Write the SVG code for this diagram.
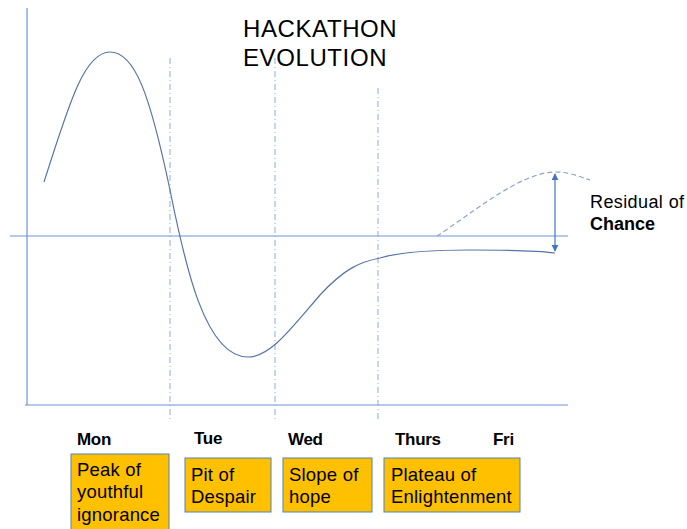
<svg xmlns="http://www.w3.org/2000/svg" width="687" height="529" viewBox="0 0 687 529">
<style>
.ax{stroke:#6f93d6;stroke-width:1.2;fill:none}
.dv{stroke:#8eaadb;stroke-width:1;stroke-dasharray:6,3,1,3;fill:none}
.cv{stroke:#5673a8;stroke-width:1.2;fill:none}
.day{font-family:"Liberation Sans",Arial,sans-serif;font-size:17px;font-weight:bold;fill:#000;letter-spacing:-0.3px}
.box{fill:#ffc000;stroke:#4f81bd;stroke-width:1}
.bt{font-family:"Liberation Sans",Arial,sans-serif;font-size:18.5px;fill:#000;letter-spacing:0.2px}
.ttl{font-family:"Liberation Sans",Arial,sans-serif;font-size:24px;fill:#000;letter-spacing:0.6px}
</style>
<defs>
<marker id="ah" viewBox="0 0 10 10" refX="9" refY="5" markerWidth="6" markerHeight="6" orient="auto-start-reverse"><path d="M0,0 L10,5 L0,10 z" fill="#4472c4"/></marker>
</defs>
<rect width="687" height="529" fill="#fff"/>
<g id="connectors">
<line class="ax" x1="27" y1="8" x2="27" y2="405"/>
<line class="ax" x1="25" y1="405" x2="568" y2="405"/>
<line class="ax" x1="10" y1="236" x2="568" y2="236"/>
<line class="dv" x1="170" y1="58" x2="170" y2="420"/>
<line class="dv" x1="275" y1="58" x2="275" y2="420"/>
<line class="dv" x1="378" y1="88" x2="378" y2="420"/>
<path class="cv" d="M44,182 C70,100 85,52 110,52 C135,52 150,95 170,190 C185,265 205,357 248,357 C270,357 290,330 320,295 C345,268 360,262 380,258 C400,252 430,250 470,250 C510,250 540,251 555,253"/>
<path class="cv" stroke-dasharray="5,3" d="M437,236 C470,215 520,172 555,172 C570,172 580,177 590,180" style="stroke:#8ea3c8"/>
<line x1="555" y1="174" x2="555" y2="251" stroke="#4472c4" stroke-width="1.2" marker-start="url(#ah)" marker-end="url(#ah)"/>
</g>
<g id="title">
<text class="ttl" x="243" y="37">HACKATHON</text>
<text class="ttl" x="243" y="66">EVOLUTION</text>
</g>
<g id="residual">
<text x="590" y="208" font-family="Liberation Sans, Arial, sans-serif" font-size="18" letter-spacing="0.4" fill="#000">Residual of</text>
<text x="590" y="230" font-family="Liberation Sans, Arial, sans-serif" font-size="18" font-weight="bold" fill="#000">Chance</text>
</g>
<g id="days">
<text class="day" x="77" y="445">Mon</text>
<text class="day" x="194" y="444">Tue</text>
<text class="day" x="288" y="445">Wed</text>
<text class="day" x="395" y="445">Thurs</text>
<text class="day" x="493" y="445">Fri</text>
</g>
<g id="peak">
<rect class="box" x="71" y="454" width="98" height="80"/>
<text class="bt" x="77" y="476">Peak of</text>
<text class="bt" x="77" y="498">youthful</text>
<text class="bt" x="77" y="521">ignorance</text>
</g>
<g id="pit">
<rect class="box" x="185" y="458" width="86" height="54"/>
<text class="bt" x="191" y="481">Pit of</text>
<text class="bt" x="191" y="503">Despair</text>
</g>
<g id="slope">
<rect class="box" x="283" y="458" width="89" height="54"/>
<text class="bt" x="289" y="481">Slope of</text>
<text class="bt" x="289" y="503">hope</text>
</g>
<g id="plateau">
<rect class="box" x="384" y="458" width="136" height="54"/>
<text class="bt" x="391" y="481">Plateau of</text>
<text class="bt" x="391" y="503">Enlightenment</text>
</g>
</svg>
